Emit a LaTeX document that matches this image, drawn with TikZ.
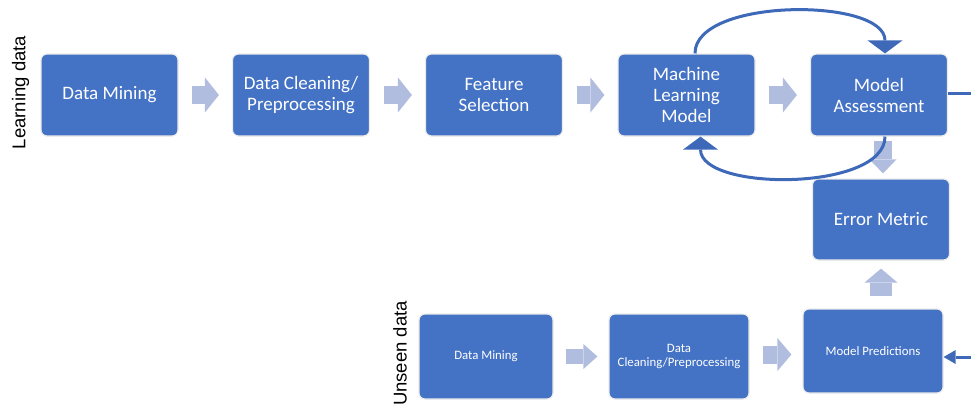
\documentclass[tikz,border=0pt]{standalone}
\usepackage{fontspec}
\newfontfamily\carlito{Carlito}
\newfontfamily\arialfont{Liberation Sans}
\usetikzlibrary{arrows.meta}
\definecolor{boxblue}{RGB}{68,114,196}
\definecolor{lineblue}{RGB}{62,104,184}
\definecolor{paleblue}{RGB}{176,189,223}

\begin{document}
\begin{tikzpicture}[x=1pt,y=-1pt,
    stagebox/.style={rectangle,rounded corners=6pt,fill=boxblue,draw=black!8,line width=1.2pt,
        text=white,align=center,inner sep=0pt,minimum width=137pt,minimum height=82pt,
        font=\carlito\fontsize{19}{21}\selectfont},
    smallbox/.style={font=\carlito\fontsize{12.8}{14}\selectfont,minimum height=85pt},
    blockarr/.style args={#1/#2}{paleblue,line width=#1,
        -{Triangle[length=14pt,width=#2,line width=0pt]},shorten <=13.5pt,shorten >=13pt},
    feedback/.style={lineblue,line width=3pt,-{Triangle[length=13pt,width=35pt,line width=0pt]}},
    sidelabel/.style={font=\arialfont\fontsize{18.5}{20}\selectfont,rotate=90}]
    \useasboundingbox (0,0) rectangle (971,407);
    \clip (0,0) rectangle (971,407);

    % Learning data
    \node[sidelabel] (learn) at (20.5,92.5) {Learning data};
    \node[stagebox] (mine1) at (109.5,95) {Data Mining};
    \node[stagebox] (clean1) at (301,95) {Data Cleaning/\\Preprocessing};
    \node[stagebox] (feat) at (494,95) {Feature\\Selection};
    \node[stagebox] (mlm) at (686.5,95) {Machine\\Learning\\Model};
    \node[stagebox] (assess) at (879,95) {Model\\Assessment};
    \node[stagebox,minimum height=81pt] (err) at (881,219.5) {Error Metric};

    % Unseen data
    \node[sidelabel] (unseen) at (400,353.5) {Unseen data};
    \node[stagebox,smallbox,minimum width=134pt] (mine2) at (486,356.5) {Data Mining};
    \node[stagebox,smallbox,minimum width=140pt] (clean2) at (679,356.5) {Data\\Cleaning/Preprocessing};
    \node[stagebox,smallbox,minimum width=140pt,minimum height=84pt] (pred) at (873,351) {Model Predictions};

    % Block arrows
    \draw[blockarr=18pt/35pt] (mine1) -- (clean1);
    \draw[blockarr=18pt/35pt] (clean1) -- (feat);
    \draw[blockarr=18pt/35pt] (feat) -- (mlm);
    \draw[blockarr=18pt/35pt] (mlm) -- (assess);
    \draw[blockarr=18pt/27pt,shorten <=4pt,shorten >=5pt] ([xshift=4pt]assess.south) -- ([xshift=2pt]err.north);
    \draw[blockarr=22pt/33pt,shorten <=12pt,shorten >=8pt] (err.south |- pred.north) -- (err.south);
    \draw[blockarr=15pt/25pt,shorten <=12pt,shorten >=11pt] (mine2) -- (clean2);
    \draw[blockarr=18pt/33pt,shorten <=13pt,shorten >=11pt] ([yshift=2pt]clean2.east) -- ([yshift=2pt]clean2.east -| pred.west);

    % Feedback loop
    \draw[feedback] ([xshift=8.5pt]mlm.north) .. controls +(0,-56) and +(0,-56) .. ([xshift=6pt]assess.north);
    \draw[feedback] ([xshift=6pt]assess.south) .. controls +(0,55) and +(0,55) .. ([xshift=14pt]mlm.south);

    % Right side link
    \draw[feedback,-{Triangle[length=12pt,width=14pt,line width=0pt]}] ([yshift=2pt]assess.east) -- ++(45,0) |- ([yshift=-6pt]pred.east);
\end{tikzpicture}
\end{document}
